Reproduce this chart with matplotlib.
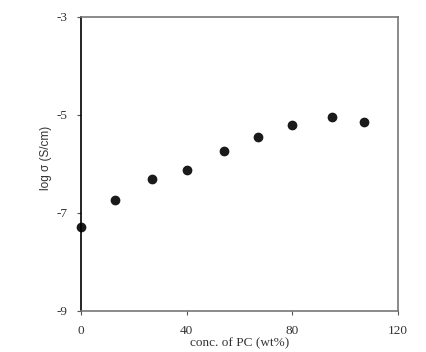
import matplotlib.pyplot as plt

# PC content (wt%) and log conductivity (S/cm)
conc_pc = [0, 13, 27, 40, 54, 67, 80, 95, 107]
log_sigma = [-7.28, -6.73, -6.31, -6.12, -5.73, -5.45, -5.20, -5.04, -5.14]

x_ticks = [0, 40, 80, 120]
y_ticks = [-9, -7, -5, -3]

fig = plt.figure(figsize=(4.26, 3.52), dpi=100)
ax = fig.add_axes([0.190, 0.1165, 0.744, 0.8355])

ax.plot(conc_pc, log_sigma, 'o', color='#1a1a1a', markersize=6, clip_on=False)

ax.set_xlim(0, 120)
ax.set_ylim(-9, -3)
ax.set_xticks(x_ticks)
ax.set_yticks(y_ticks)

serif = ['Liberation Serif', 'DejaVu Serif']
ax.set_xticklabels([str(t) for t in x_ticks], family=serif, fontsize=9.5, color='#333333')
ax.set_yticklabels([str(t) for t in y_ticks], family=serif, fontsize=9.5, color='#333333')
ax.tick_params(direction='out', length=3, width=0.8, color='#555555', pad=7)

ax.set_xlabel('conc. of PC (wt%)', family=serif, fontsize=9.5, color='#333333', labelpad=0)
ax.set_ylabel('log σ (S/cm)', family=['Liberation Sans', 'DejaVu Sans'], fontsize=8.5,
              color='#333333')
ax.yaxis.set_label_coords(-0.09, 0.52)

ax.spines['left'].set_color('black')
for s in ['top', 'bottom', 'right']:
    ax.spines[s].set_color('#777777')
for s in ax.spines.values():
    s.set_linewidth(1.2)

fig.savefig('out.png', dpi=100)
